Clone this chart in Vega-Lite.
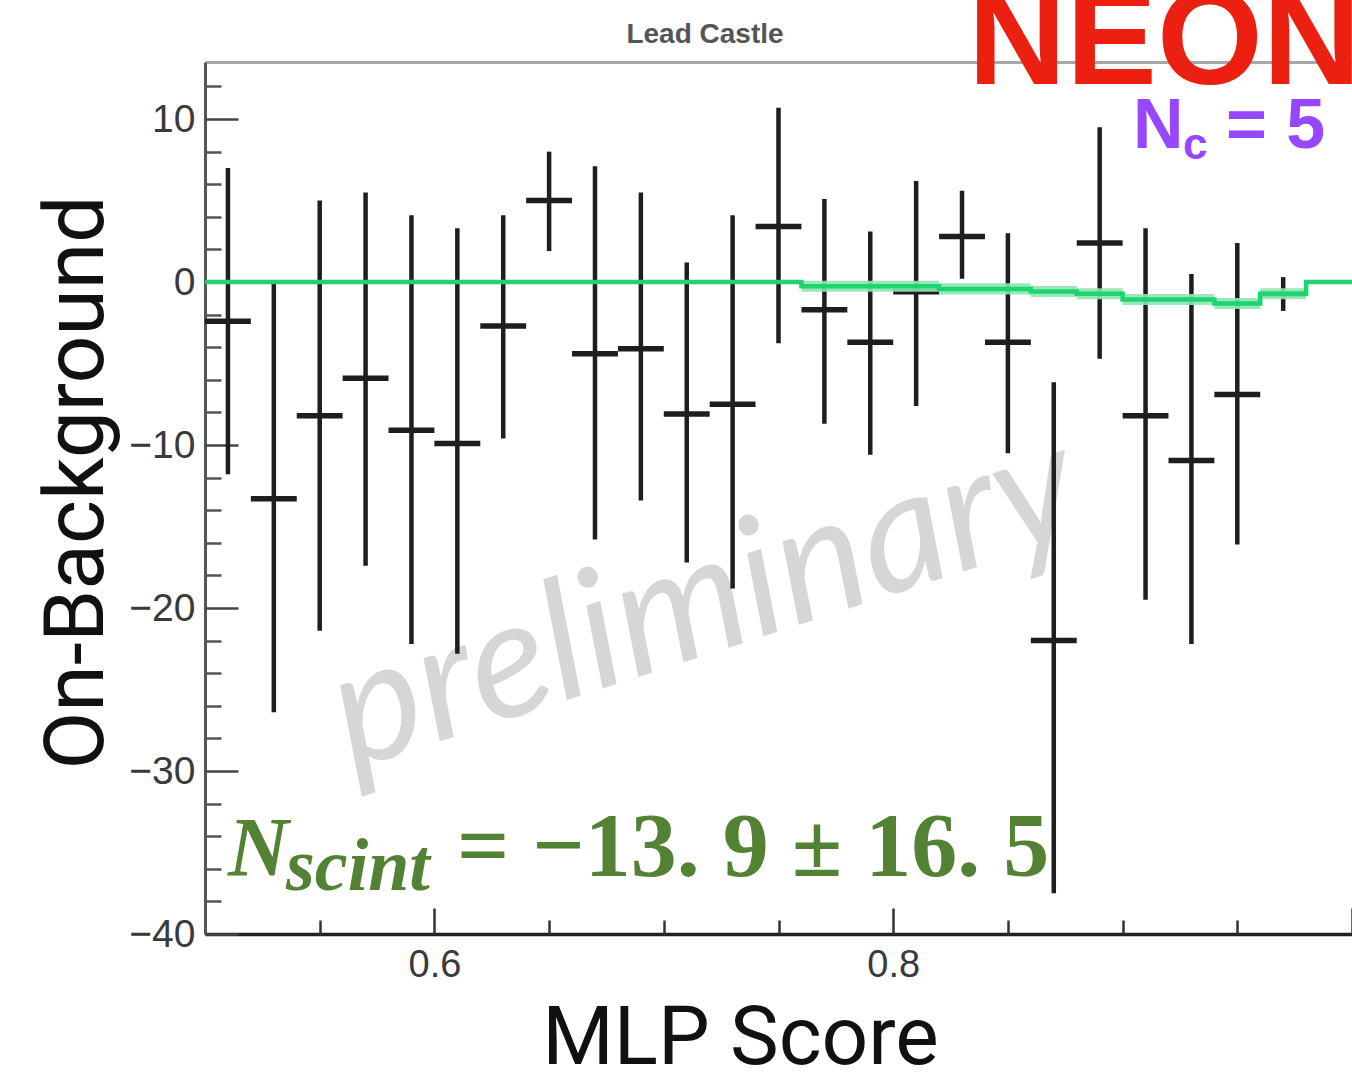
{
  "$schema": "https://vega.github.io/schema/vega-lite/v6.json",
  "width": 1147,
  "height": 872,
  "autosize": {"type": "none"},
  "padding": {"left": 205, "top": 62, "right": 0, "bottom": 140},
  "background": "white",
  "config": {"view": {"stroke": null}},
  "datasets": {
    "points": [
      {"score": 0.51, "binLo": 0.50, "binHi": 0.52, "value": -2.4, "lo": -11.8, "hi": 7.0},
      {"score": 0.53, "binLo": 0.52, "binHi": 0.54, "value": -13.3, "lo": -26.4, "hi": 0.0},
      {"score": 0.55, "binLo": 0.54, "binHi": 0.56, "value": -8.2, "lo": -21.4, "hi": 5.0},
      {"score": 0.57, "binLo": 0.56, "binHi": 0.58, "value": -5.9, "lo": -17.4, "hi": 5.5},
      {"score": 0.59, "binLo": 0.58, "binHi": 0.60, "value": -9.1, "lo": -22.2, "hi": 4.1},
      {"score": 0.61, "binLo": 0.60, "binHi": 0.62, "value": -9.9, "lo": -22.8, "hi": 3.3},
      {"score": 0.63, "binLo": 0.62, "binHi": 0.64, "value": -2.7, "lo": -9.6, "hi": 4.1},
      {"score": 0.65, "binLo": 0.64, "binHi": 0.66, "value": 5.0, "lo": 1.9, "hi": 8.0},
      {"score": 0.67, "binLo": 0.66, "binHi": 0.68, "value": -4.4, "lo": -15.8, "hi": 7.1},
      {"score": 0.69, "binLo": 0.68, "binHi": 0.70, "value": -4.1, "lo": -13.4, "hi": 5.5},
      {"score": 0.71, "binLo": 0.70, "binHi": 0.72, "value": -8.1, "lo": -17.2, "hi": 1.2},
      {"score": 0.73, "binLo": 0.72, "binHi": 0.74, "value": -7.5, "lo": -18.8, "hi": 4.1},
      {"score": 0.75, "binLo": 0.74, "binHi": 0.76, "value": 3.4, "lo": -3.75, "hi": 10.7},
      {"score": 0.77, "binLo": 0.76, "binHi": 0.78, "value": -1.7, "lo": -8.7, "hi": 5.1},
      {"score": 0.79, "binLo": 0.78, "binHi": 0.80, "value": -3.7, "lo": -10.6, "hi": 3.1},
      {"score": 0.81, "binLo": 0.80, "binHi": 0.82, "value": -0.6, "lo": -7.6, "hi": 6.2},
      {"score": 0.83, "binLo": 0.82, "binHi": 0.84, "value": 2.8, "lo": 0.2, "hi": 5.6},
      {"score": 0.85, "binLo": 0.84, "binHi": 0.86, "value": -3.7, "lo": -10.5, "hi": 3.0},
      {"score": 0.87, "binLo": 0.86, "binHi": 0.88, "value": -22.0, "lo": -37.5, "hi": -6.15},
      {"score": 0.89, "binLo": 0.88, "binHi": 0.90, "value": 2.4, "lo": -4.7, "hi": 9.5},
      {"score": 0.91, "binLo": 0.90, "binHi": 0.92, "value": -8.2, "lo": -19.5, "hi": 3.3},
      {"score": 0.93, "binLo": 0.92, "binHi": 0.94, "value": -10.95, "lo": -22.2, "hi": 0.5},
      {"score": 0.95, "binLo": 0.94, "binHi": 0.96, "value": -6.9, "lo": -16.1, "hi": 2.4},
      {"score": 0.97, "binLo": 0.96, "binHi": 0.98, "value": -0.73, "lo": -1.77, "hi": 0.3}
    ],
    "bkg": [
      {"score": 0.50, "bkg": 0.0, "bandLo": 0.0, "bandHi": 0.0},
      {"score": 0.76, "bkg": -0.26, "bandLo": -0.6, "bandHi": 0.08},
      {"score": 0.82, "bkg": -0.42, "bandLo": -0.76, "bandHi": -0.08},
      {"score": 0.86, "bkg": -0.58, "bandLo": -0.92, "bandHi": -0.24},
      {"score": 0.88, "bkg": -0.72, "bandLo": -1.06, "bandHi": -0.38},
      {"score": 0.90, "bkg": -1.07, "bandLo": -1.41, "bandHi": -0.73},
      {"score": 0.94, "bkg": -1.32, "bandLo": -1.66, "bandHi": -0.98},
      {"score": 0.96, "bkg": -0.72, "bandLo": -1.06, "bandHi": -0.38},
      {"score": 0.98, "bkg": 0.0, "bandLo": 0.0, "bandHi": 0.0},
      {"score": 1.00, "bkg": 0.0, "bandLo": 0.0, "bandHi": 0.0}
    ]
  },
  "resolve": {"axis": {"x": "independent", "y": "independent"}},
  "layer": [
    {
      "data": {"values": [{"t": "preliminary"}]},
      "mark": {"type": "text", "font": "Lato", "fontStyle": "italic", "fontSize": 166, "fill": "#d6d6d6", "align": "center", "baseline": "alphabetic", "angle": -18},
      "encoding": {
        "x": {"datum": 0.7245, "type": "quantitative", "scale": {"domain": [0.5, 1.0], "nice": false, "zero": false}, "axis": null},
        "y": {"datum": -22.6, "type": "quantitative", "scale": {"domain": [-40, 13.5], "nice": false, "zero": false}, "axis": null},
        "text": {"field": "t"}
      }
    },
    {
      "data": {"name": "points"},
      "mark": {"type": "rule", "stroke": "#1e1e1e", "strokeWidth": 4.5},
      "encoding": {
        "x": {"field": "score", "type": "quantitative", "scale": {"domain": [0.5, 1.0], "nice": false, "zero": false},
          "axis": {"orient": "bottom", "values": [0.6, 0.8], "format": ".1f", "ticks": false, "grid": false, "domain": true, "domainColor": "#222222", "domainWidth": 3.5,
            "labelFont": "Liberation Sans", "labelFontSize": 38, "labelColor": "#3a3a3a", "labelPadding": 12, "labelFlush": false, "labelOverlap": false,
            "title": "MLP Score", "titleFont": "Roboto", "titleFontSize": 82, "titleFontWeight": "normal", "titleColor": "#111111",
            "titleX": 535, "titleY": 129, "titleBaseline": "alphabetic", "titleAlign": "center"}},
        "y": {"field": "lo", "type": "quantitative", "scale": {"domain": [-40, 13.5], "nice": false, "zero": false},
          "axis": {"orient": "left", "values": [-40, -30, -20, -10, 0, 10], "ticks": false, "grid": false, "domain": true, "domainColor": "#555555", "domainWidth": 3,
            "labelFont": "Liberation Sans", "labelFontSize": 39, "labelColor": "#3a3a3a", "labelPadding": 10, "labelFlush": false, "labelOverlap": false,
            "title": "On-Background", "titleFont": "Roboto", "titleFontSize": 84, "titleFontWeight": "normal", "titleColor": "#111111",
            "titleX": -103, "titleY": 420, "titleAngle": -90, "titleBaseline": "alphabetic", "titleAlign": "center"}},
        "y2": {"field": "hi"}
      }
    },
    {
      "data": {"name": "points"},
      "mark": {"type": "rule", "stroke": "#1e1e1e", "strokeWidth": 5.5},
      "encoding": {
        "x": {"field": "binLo", "type": "quantitative", "scale": {"domain": [0.5, 1.0], "nice": false, "zero": false},
          "axis": {"orient": "bottom", "values": [0.6, 0.8, 1.0], "ticks": true, "tickSize": -26, "tickWidth": 2.5, "tickColor": "#333333", "labels": false, "domain": false, "grid": false, "title": null}},
        "x2": {"field": "binHi"},
        "y": {"field": "value", "type": "quantitative", "scale": {"domain": [-40, 13.5], "nice": false, "zero": false},
          "axis": {"orient": "left", "values": [-40, -30, -20, -10, 0, 10], "ticks": true, "tickSize": -33, "tickWidth": 2.5, "tickColor": "#444444", "labels": false, "domain": false, "grid": false, "title": null}}
      }
    },
    {
      "data": {"name": "bkg"},
      "mark": {"type": "area", "interpolate": "step-after", "fill": "#8ee6b4", "opacity": 0.9},
      "encoding": {
        "x": {"field": "score", "type": "quantitative", "scale": {"domain": [0.5, 1.0], "nice": false, "zero": false},
          "axis": {"orient": "bottom", "values": [0.55, 0.65, 0.7, 0.75, 0.85, 0.9, 0.95], "ticks": true, "tickSize": -14, "tickWidth": 2.5, "tickColor": "#333333", "labels": false, "domain": false, "grid": false, "title": null}},
        "y": {"field": "bandLo", "type": "quantitative", "scale": {"domain": [-40, 13.5], "nice": false, "zero": false},
          "axis": {"orient": "left", "values": [-38, -36, -34, -32, -28, -26, -24, -22, -18, -16, -14, -12, -8, -6, -4, -2, 2, 4, 6, 8, 12], "ticks": true, "tickSize": -16, "tickWidth": 2.5, "tickColor": "#555555", "labels": false, "domain": false, "grid": false, "title": null}},
        "y2": {"field": "bandHi"}
      }
    },
    {
      "data": {"name": "bkg"},
      "mark": {"type": "line", "interpolate": "step-after", "stroke": "#1fd36f", "strokeWidth": 4.5},
      "encoding": {
        "x": {"field": "score", "type": "quantitative", "scale": {"domain": [0.5, 1.0], "nice": false, "zero": false},
          "axis": {"orient": "top", "ticks": false, "labels": false, "domain": true, "domainColor": "#a8a8a8", "domainWidth": 3, "grid": false, "title": null}},
        "y": {"field": "bkg", "type": "quantitative", "scale": {"domain": [-40, 13.5], "nice": false, "zero": false}, "axis": null}
      }
    },
    {
      "data": {"values": [{"t": "Lead Castle"}]},
      "mark": {"type": "text", "font": "Liberation Sans", "fontSize": 28, "fontWeight": "bold", "fill": "#555555", "align": "center", "baseline": "alphabetic"},
      "encoding": {
        "x": {"datum": 0.71796, "type": "quantitative", "scale": {"domain": [0.5, 1.0], "nice": false, "zero": false}, "axis": null},
        "y": {"datum": 14.665, "type": "quantitative", "scale": {"domain": [-40, 13.5], "nice": false, "zero": false}, "axis": null},
        "text": {"field": "t"}
      }
    },
    {
      "data": {"values": [{"t": "NEON"}]},
      "mark": {"type": "text", "font": "Liberation Sans", "fontSize": 136, "fontWeight": "bold", "fill": "#ec2010", "align": "left", "baseline": "alphabetic"},
      "encoding": {
        "x": {"datum": 0.83261, "type": "quantitative", "scale": {"domain": [0.5, 1.0], "nice": false, "zero": false}, "axis": null},
        "y": {"datum": 12.18, "type": "quantitative", "scale": {"domain": [-40, 13.5], "nice": false, "zero": false}, "axis": null},
        "text": {"field": "t"}
      }
    },
    {
      "data": {"values": [{"t": "N"}]},
      "mark": {"type": "text", "font": "Liberation Sans", "fontSize": 70, "fontWeight": "bold", "fill": "#9747ff", "align": "left", "baseline": "alphabetic"},
      "encoding": {
        "x": {"datum": 0.90453, "type": "quantitative", "scale": {"domain": [0.5, 1.0], "nice": false, "zero": false}, "axis": null},
        "y": {"datum": 8.227, "type": "quantitative", "scale": {"domain": [-40, 13.5], "nice": false, "zero": false}, "axis": null},
        "text": {"field": "t"}
      }
    },
    {
      "data": {"values": [{"t": "c"}]},
      "mark": {"type": "text", "font": "Liberation Sans", "fontSize": 44, "fontWeight": "bold", "fill": "#9747ff", "align": "left", "baseline": "alphabetic"},
      "encoding": {
        "x": {"datum": 0.92633, "type": "quantitative", "scale": {"domain": [0.5, 1.0], "nice": false, "zero": false}, "axis": null},
        "y": {"datum": 7.553, "type": "quantitative", "scale": {"domain": [-40, 13.5], "nice": false, "zero": false}, "axis": null},
        "text": {"field": "t"}
      }
    },
    {
      "data": {"values": [{"t": "= 5"}]},
      "mark": {"type": "text", "font": "Liberation Sans", "fontSize": 70, "fontWeight": "bold", "fill": "#9747ff", "align": "left", "baseline": "alphabetic"},
      "encoding": {
        "x": {"datum": 0.94508, "type": "quantitative", "scale": {"domain": [0.5, 1.0], "nice": false, "zero": false}, "axis": null},
        "y": {"datum": 8.227, "type": "quantitative", "scale": {"domain": [-40, 13.5], "nice": false, "zero": false}, "axis": null},
        "text": {"field": "t"}
      }
    },
    {
      "data": {"values": [{"t": "N"}]},
      "mark": {"type": "text", "font": "Liberation Serif", "fontSize": 84, "fontWeight": "bold", "fontStyle": "italic", "fill": "#548235", "align": "left", "baseline": "alphabetic"},
      "encoding": {
        "x": {"datum": 0.51, "type": "quantitative", "scale": {"domain": [0.5, 1.0], "nice": false, "zero": false}, "axis": null},
        "y": {"datum": -36.47, "type": "quantitative", "scale": {"domain": [-40, 13.5], "nice": false, "zero": false}, "axis": null},
        "text": {"field": "t"}
      }
    },
    {
      "data": {"values": [{"t": "scint"}]},
      "mark": {"type": "text", "font": "Liberation Serif", "fontSize": 74, "fontWeight": "bold", "fontStyle": "italic", "fill": "#548235", "align": "left", "baseline": "alphabetic"},
      "encoding": {
        "x": {"datum": 0.53531, "type": "quantitative", "scale": {"domain": [0.5, 1.0], "nice": false, "zero": false}, "axis": null},
        "y": {"datum": -37.32, "type": "quantitative", "scale": {"domain": [-40, 13.5], "nice": false, "zero": false}, "axis": null},
        "text": {"field": "t"}
      }
    },
    {
      "data": {"values": [{"t": "= −13. 9 ± 16. 5"}]},
      "mark": {"type": "text", "font": "Liberation Serif", "fontSize": 92, "fontWeight": "bold", "fill": "#548235", "align": "left", "baseline": "alphabetic"},
      "encoding": {
        "x": {"datum": 0.6098, "type": "quantitative", "scale": {"domain": [0.5, 1.0], "nice": false, "zero": false}, "axis": null},
        "y": {"datum": -36.47, "type": "quantitative", "scale": {"domain": [-40, 13.5], "nice": false, "zero": false}, "axis": null},
        "text": {"field": "t"}
      }
    }
  ]
}
